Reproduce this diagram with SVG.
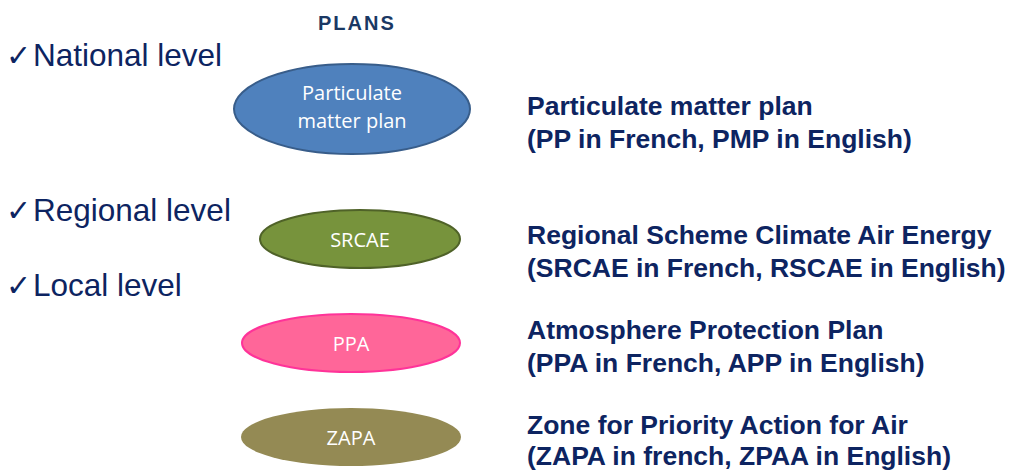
<svg xmlns="http://www.w3.org/2000/svg" width="1009" height="472" viewBox="0 0 1009 472">
<style>
.lvl{font-family:"Liberation Sans",Arial,sans-serif;font-size:31.5px;fill:#0d2461}
.chk{font-family:"DejaVu Sans",sans-serif;font-size:30px;fill:#0d2461}
.desc{font-family:"Liberation Sans",Arial,sans-serif;font-size:26.5px;font-weight:bold;fill:#0d2461}
.in{font-family:"Open Sans","Noto Sans",sans-serif;font-size:20px;fill:#ffffff;text-anchor:middle}
.title{font-family:"Liberation Sans",Arial,sans-serif;font-size:20px;font-weight:bold;fill:#1a3864;letter-spacing:2px}
</style>
<rect width="1009" height="472" fill="#ffffff"/>
<text class="title" x="318" y="30">PLANS</text>
<g id="levels">
<text x="6" y="66"><tspan class="chk">✓</tspan><tspan class="lvl" x="33">National level</tspan></text>
<text x="6" y="221"><tspan class="chk">✓</tspan><tspan class="lvl" x="33">Regional level</tspan></text>
<text x="6" y="296"><tspan class="chk">✓</tspan><tspan class="lvl" x="33">Local level</tspan></text>
</g>
<g id="pmp">
<ellipse cx="352" cy="109" rx="118" ry="45" fill="#4f81bd" stroke="#385d8a" stroke-width="2"/>
<text class="in" x="352" y="100">Particulate</text>
<text class="in" x="352" y="128">matter plan</text>
</g>
<g id="srcae">
<ellipse cx="360" cy="239" rx="100" ry="29" fill="#77933c" stroke="#4f6228" stroke-width="2"/>
<text class="in" x="360" y="247">SRCAE</text>
</g>
<g id="ppa">
<ellipse cx="351" cy="343" rx="109" ry="29" fill="#ff6699" stroke="#ff3399" stroke-width="2"/>
<text class="in" x="351" y="351">PPA</text>
</g>
<g id="zapa">
<ellipse cx="351" cy="437" rx="110" ry="29" fill="#948a54"/>
<text class="in" x="351" y="445">ZAPA</text>
</g>
<g id="descriptions">
<text class="desc" x="527" y="115">Particulate matter plan</text>
<text class="desc" x="527" y="148">(PP in French, PMP in English)</text>
<text class="desc" x="527" y="244">Regional Scheme Climate Air Energy</text>
<text class="desc" x="527" y="277">(SRCAE in French, RSCAE in English)</text>
<text class="desc" x="527" y="339">Atmosphere Protection Plan</text>
<text class="desc" x="527" y="372">(PPA in French, APP in English)</text>
<text class="desc" x="527" y="434">Zone for Priority Action for Air</text>
<text class="desc" x="527" y="465">(ZAPA in french, ZPAA in English)</text>
</g>
<g id="connectors"></g>
</svg>
